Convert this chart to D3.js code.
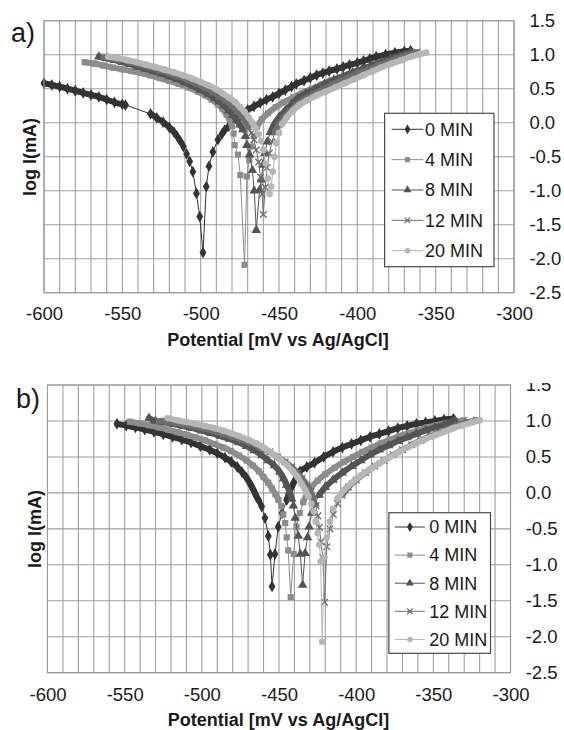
<!DOCTYPE html>
<html>
<head>
<meta charset="utf-8">
<script src="https://cdn.jsdelivr.net/npm/d3@7"></script>
<style>
  body { margin: 0; background: #fff; }
  svg { display: block; font-family: "Liberation Sans", Arial, sans-serif; }
</style>
</head>
<body>
<svg id="chart" width="564" height="730"></svg>
<script>
var seriesNames = ["0 MIN", "4 MIN", "8 MIN", "12 MIN", "20 MIN"];
var xTicks = [-600, -550, -500, -450, -400, -350, -300];
var yTicks = [1.5, 1.0, 0.5, 0.0, -0.5, -1.0, -1.5, -2.0, -2.5];

// panel a) points are [potential mV, log I], in sweep order
var a0 = [[-600,0.58],[-595,0.555],[-590,0.53],[-585,0.50],[-580,0.47],[-575,0.44],[-570,0.41],[-565,0.38],[-560,0.34],[-555,0.30],[-550,0.27],[-548,0.26],
    [-532,0.13],[-528,0.07],[-524,0.01],[-520,-0.07],[-517,-0.14],[-515,-0.2],[-513,-0.27],[-511,-0.35],[-509,-0.46],[-507,-0.57],[-505,-0.72],[-502.7,-1.04],[-500.6,-1.38],[-498.5,-1.91],
    [-496.4,-0.94],[-494.7,-0.64],[-492.2,-0.43],[-489,-0.25],[-486.5,-0.17],[-484.7,-0.11],[-482,-0.05],[-479.4,0.01],[-475,0.1],[-470,0.19],[-466,0.24],[-462,0.29],[-458,0.34],[-454,0.38],[-450,0.43],[-446,0.48],[-442,0.53],[-439,0.57],[-434,0.62],[-430,0.66],[-426,0.70],[-422,0.73],[-418,0.76],[-413,0.79],[-409,0.82],[-405,0.85],[-400,0.88],[-396,0.91],[-392,0.94],[-388,0.97],[-382,1.0],[-376,1.03],[-370,1.05],[-366,1.06]];
var a4 = [[-574,0.89],[-568,0.87],[-562,0.84],[-556,0.81],[-550,0.785],[-544,0.76],[-538,0.73],[-532,0.695],[-526,0.655],[-520,0.615],[-514,0.57],[-508,0.52],[-502,0.46],[-497,0.40],[-493,0.34],[-489,0.27],[-486,0.2],[-483.5,0.12],[-481.5,0.04],[-480,-0.05],[-479,-0.16],[-478.3,-0.33],[-476.2,-0.47],[-474.7,-0.77],[-472,-2.09],
    [-470.5,-0.79],[-469,-0.55],[-467.5,-0.35],[-466,-0.2],[-464,-0.06],[-461,0.05],[-457,0.14],[-452,0.23],[-447,0.3],[-441,0.37],[-435,0.44],[-429,0.5],[-423,0.56],[-417,0.62],[-411,0.67],[-405,0.72],[-399,0.77],[-393,0.82],[-387,0.87],[-381,0.91],[-375,0.96],[-369,1.0],[-365,1.03]];
var a8 = [[-565,0.97],[-560,0.945],[-555,0.92],[-550,0.89],[-545,0.86],[-540,0.825],[-535,0.79],[-530,0.755],[-525,0.72],[-520,0.68],[-515,0.64],[-510,0.59],[-505,0.54],[-500,0.48],[-495,0.42],[-491,0.36],[-488,0.31],[-485,0.25],[-482,0.18],[-479.5,0.11],[-477,0.04],[-475,-0.03],[-473,-0.1],[-471.5,-0.2],[-470.5,-0.33],[-468.8,-0.47],[-467,-0.70],[-465.8,-1.0],[-464.5,-1.58],
    [-462.4,-0.99],[-461.3,-0.84],[-460.2,-0.62],[-459,-0.45],[-457.5,-0.28],[-455.5,-0.14],[-453,-0.02],[-450,0.08],[-446,0.18],[-442,0.27],[-438,0.36],[-433,0.43],[-427,0.5],[-421,0.57],[-415,0.63],[-409,0.68],[-403,0.74],[-397,0.79],[-391,0.84],[-385,0.89],[-379,0.94],[-373,0.98],[-366,1.04]];
var a12 = [[-562,0.97],[-556,0.945],[-550,0.92],[-544,0.885],[-538,0.85],[-532,0.81],[-526,0.77],[-520,0.725],[-514,0.68],[-508,0.625],[-502,0.565],[-497,0.51],[-492,0.45],[-488,0.39],[-484,0.33],[-480,0.25],[-477,0.18],[-474,0.1],[-471.5,0.02],[-469.5,-0.06],[-467.5,-0.15],[-466,-0.25],[-464.5,-0.4],[-463,-0.58],[-461.8,-0.8],[-460.8,-1.05],[-460,-1.35],
    [-458.8,-0.95],[-457.6,-0.66],[-456.2,-0.45],[-454.5,-0.28],[-452.5,-0.14],[-450,-0.03],[-447,0.07],[-443,0.17],[-439,0.26],[-434,0.34],[-428,0.42],[-422,0.49],[-416,0.56],[-410,0.62],[-404,0.68],[-398,0.74],[-392,0.79],[-386,0.85],[-380,0.9],[-374,0.95],[-368,0.99],[-362,1.04]];
var a20 = [[-559,0.97],[-553,0.95],[-547,0.92],[-541,0.89],[-535,0.855],[-529,0.82],[-523,0.78],[-517,0.74],[-511,0.695],[-505,0.645],[-500,0.60],[-495,0.55],[-490,0.49],[-486,0.43],[-482,0.37],[-478,0.3],[-475,0.23],[-472,0.16],[-469.5,0.08],[-467,0.0],[-465,-0.08],[-463,-0.17],[-461.5,-0.27],[-460,-0.4],[-458.5,-0.6],[-457.2,-0.82],[-456,-1.05],
    [-455,-0.94],[-454,-0.72],[-452.8,-0.5],[-451.8,-0.3],[-450,-0.15],[-448,-0.02],[-445,0.08],[-441,0.18],[-437,0.26],[-432,0.33],[-426,0.4],[-420,0.46],[-414,0.52],[-408,0.58],[-402,0.64],[-396,0.7],[-390,0.76],[-384,0.82],[-378,0.87],[-372,0.92],[-366,0.97],[-360,1.01],[-356,1.03]];

// panel b)
var b0 = [[-555,0.96],[-549,0.935],[-543,0.91],[-537,0.88],[-531,0.85],[-525,0.815],[-519,0.78],[-513,0.74],[-507,0.70],[-501,0.65],[-495,0.6],[-490,0.55],[-485,0.49],[-481,0.43],[-477,0.36],[-474,0.29],[-471,0.21],[-468.5,0.12],[-466.5,0.04],[-465,-0.03],[-463,-0.11],[-461.2,-0.19],[-459.1,-0.35],[-456.9,-0.6],[-455.6,-0.86],[-454.5,-1.30],
    [-452.6,-0.85],[-450.5,-0.47],[-448,-0.28],[-445,-0.1],[-443,0.02],[-440.7,0.13],[-436.4,0.3],[-432,0.36],[-427,0.42],[-421,0.5],[-415,0.57],[-409,0.63],[-403,0.68],[-397,0.73],[-391,0.78],[-385,0.82],[-379,0.86],[-373,0.9],[-367,0.93],[-361,0.96],[-355,0.98],[-349,1.0],[-343,1.02],[-337,1.03]];
var b4 = [[-546.6,0.99],[-540,0.965],[-534,0.94],[-528,0.91],[-522,0.88],[-516,0.845],[-510,0.81],[-504,0.77],[-498,0.73],[-492,0.68],[-486,0.63],[-481,0.58],[-476,0.52],[-471,0.45],[-467,0.38],[-463,0.3],[-460,0.22],[-457,0.14],[-454.5,0.06],[-452.3,-0.02],[-450.3,-0.1],[-448.5,-0.18],[-447.2,-0.3],[-446,-0.42],[-445,-0.62],[-444,-0.8],[-442.4,-1.45],
    [-440.5,-0.85],[-438.7,-0.47],[-436.5,-0.28],[-434.3,-0.13],[-432,-0.02],[-429,0.08],[-425,0.17],[-420,0.26],[-414,0.35],[-408,0.43],[-402,0.5],[-396,0.57],[-390,0.63],[-384,0.69],[-378,0.74],[-372,0.79],[-366,0.83],[-360,0.87],[-354,0.91],[-348,0.94],[-342,0.97],[-336,0.99],[-330,1.01]];
var b8 = [[-534.2,1.04],[-530,1.0],[-524,0.98],[-518,0.955],[-512,0.93],[-506,0.9],[-500,0.865],[-494,0.83],[-488,0.79],[-482,0.75],[-476,0.7],[-471,0.65],[-466,0.59],[-461,0.52],[-457,0.45],[-453,0.38],[-449.5,0.29],[-447,0.2],[-445,0.11],[-443.3,0.02],[-441.8,-0.08],[-440.7,-0.18],[-439.5,-0.35],[-437.5,-0.6],[-436.2,-0.85],[-434.7,-1.28],
    [-433.1,-0.84],[-431.5,-0.62],[-430.5,-0.47],[-428.8,-0.28],[-426.7,-0.15],[-424,-0.03],[-420,0.08],[-415,0.18],[-409,0.28],[-403,0.37],[-397,0.45],[-391,0.53],[-385,0.6],[-379,0.66],[-373,0.72],[-367,0.77],[-361,0.82],[-355,0.87],[-349,0.91],[-343,0.95],[-338,0.99],[-336,1.01]];
var b12 = [[-528,1.0],[-522,0.99],[-516,0.97],[-510,0.945],[-504,0.92],[-498,0.89],[-492,0.86],[-486,0.82],[-480,0.78],[-474,0.74],[-468,0.69],[-462,0.63],[-456,0.57],[-451,0.5],[-446,0.43],[-442,0.36],[-438,0.28],[-435,0.2],[-432,0.11],[-429.5,0.02],[-427.5,-0.08],[-426,-0.18],[-424.8,-0.32],[-423.8,-0.48],[-422.8,-0.68],[-421.6,-0.9],[-420.5,-1.52],
    [-419,-0.75],[-417,-0.5],[-414.8,-0.3],[-412,-0.15],[-409,-0.03],[-405,0.08],[-400,0.18],[-394,0.28],[-388,0.37],[-382,0.45],[-376,0.53],[-370,0.6],[-364,0.67],[-358,0.73],[-352,0.79],[-346,0.84],[-340,0.89],[-334,0.94],[-328,0.98],[-322,1.01]];
var b20 = [[-522,1.04],[-516,1.01],[-510,0.985],[-504,0.96],[-498,0.93],[-492,0.9],[-486,0.865],[-481,0.83],[-476,0.79],[-470,0.74],[-465,0.69],[-460,0.63],[-455,0.56],[-450,0.48],[-445,0.39],[-441,0.3],[-438,0.22],[-435.5,0.13],[-433,0.04],[-431,-0.05],[-429,-0.15],[-427.5,-0.26],[-426.2,-0.4],[-425,-0.56],[-423.9,-0.72],[-423,-0.95],[-422,-2.07],
    [-420.5,-0.9],[-419,-0.62],[-417,-0.4],[-415,-0.22],[-412,-0.08],[-408,0.04],[-403,0.14],[-397,0.24],[-391,0.33],[-385,0.41],[-379,0.49],[-373,0.56],[-367,0.63],[-361,0.69],[-355,0.75],[-349,0.8],[-343,0.85],[-337,0.9],[-331,0.94],[-325,0.98],[-320,1.01]];

var colors = ["#333333", "#8c8c8c", "#545454", "#6e6e6e", "#b6b6b6"];
var symbols = [d3.symbolDiamond, d3.symbolSquare, d3.symbolTriangle, d3.symbolTimes, d3.symbolCircle];
var symSizes = [40, 38, 40, 30, 34];
var fontFam = "Liberation Sans, Arial, sans-serif";

var svg = d3.select("#chart");

function drawPanel(series, p) {
    var x = d3.scaleLinear().domain([-600, -300]).range([p.left, p.right]);
    var y = d3.scaleLinear().domain([-2.5, 1.5]).range([p.bottom, p.top]);
    var g = svg.append("g");

    // grid every 10 mV and every 0.5
    g.append("g").selectAll("line")
        .data(d3.range(-600, -299, 10))
        .join("line")
        .attr("x1", function (d) { return x(d); })
        .attr("x2", function (d) { return x(d); })
        .attr("y1", p.top).attr("y2", p.bottom)
        .attr("stroke", "#9e9e9e").attr("stroke-width", 1.1);
    g.append("g").selectAll("line")
        .data(yTicks)
        .join("line")
        .attr("x1", p.left).attr("x2", p.right)
        .attr("y1", function (d) { return y(d); })
        .attr("y2", function (d) { return y(d); })
        .attr("stroke", "#9e9e9e").attr("stroke-width", 1.1);

    // axes (labels only)
    var xa = g.append("g")
        .attr("transform", "translate(0," + p.bottom + ")")
        .call(d3.axisBottom(x).tickValues(xTicks).tickSize(0).tickPadding(p.xPad).tickFormat(function (d) { return String(d); }));
    xa.select(".domain").remove();
    xa.selectAll("text").attr("font-size", 18.5).attr("fill", "#1a1a1a").attr("font-family", fontFam);

    var ya = g.append("g")
        .attr("transform", "translate(" + p.right + ",0)")
        .call(d3.axisRight(y).tickValues(yTicks).tickSize(0).tickPadding(p.yPad).tickFormat(function (d) { return d.toFixed(1); }));
    ya.select(".domain").remove();
    ya.selectAll("text").attr("font-size", 18.5).attr("fill", "#1a1a1a").attr("font-family", fontFam);
    if (p.clipTop) {
        // the top label of b) is cut off in the original figure
        svg.append("clipPath").attr("id", "clipB")
            .append("rect").attr("x", 0).attr("y", p.clipTop).attr("width", 564).attr("height", 730);
        ya.attr("clip-path", "url(#clipB)");
    }

    var line = d3.line().x(function (d) { return x(d[0]); }).y(function (d) { return y(d[1]); });

    series.forEach(function (pts, i) {
        var sg = g.append("g");
        // runs of closely spaced points look like a solid band of markers
        var runs = [], cur = [];
        for (var k = 1; k < pts.length; k++) {
            var p0 = pts[k - 1], p1 = pts[k];
            var dense = p0[1] > -0.15 && p1[1] > -0.15 && Math.abs(p1[0] - p0[0]) < 15;
            if (dense) {
                if (!cur.length) cur.push(p0);
                cur.push(p1);
            } else if (cur.length) {
                runs.push(cur); cur = [];
            }
        }
        if (cur.length) runs.push(cur);

        sg.selectAll("path.band")
            .data(runs)
            .join("path")
            .attr("class", "band")
            .attr("d", line.curve(d3.curveCatmullRom))
            .attr("fill", "none")
            .attr("stroke", colors[i])
            .attr("stroke-width", 6)
            .attr("stroke-linecap", "round")
            .attr("stroke-linejoin", "round");

        sg.append("path")
            .datum(pts)
            .attr("d", line.curve(d3.curveLinear))
            .attr("fill", "none")
            .attr("stroke", colors[i])
            .attr("stroke-width", 1);

        var sym = d3.symbol().type(symbols[i]).size(symSizes[i]);
        sg.selectAll("path.mk")
            .data(pts)
            .join("path")
            .attr("class", "mk")
            .attr("d", sym)
            .attr("transform", function (d) { return "translate(" + x(d[0]) + "," + y(d[1]) + ")"; })
            .attr("fill", i == 3 ? "none" : colors[i])
            .attr("stroke", i == 3 ? colors[i] : "none")
            .attr("stroke-width", 1.4);
    });

    // plot border
    g.append("rect")
        .attr("x", p.left).attr("y", p.top)
        .attr("width", p.right - p.left).attr("height", p.bottom - p.top)
        .attr("fill", "none").attr("stroke", "#9a9a9a").attr("stroke-width", 1.1);

    // legend
    var lg = g.append("g").attr("transform", "translate(" + p.legX + "," + p.legY + ")");
    lg.append("rect")
        .attr("width", p.legW).attr("height", p.legH)
        .attr("fill", "#fff").attr("stroke", "#4a4a4a").attr("stroke-width", 1.2);
    seriesNames.forEach(function (name, i) {
        var row = lg.append("g").attr("transform", "translate(0," + (p.legRow0 + i * p.legStep) + ")");
        row.append("line")
            .attr("x1", p.legLine[0]).attr("x2", p.legLine[1])
            .attr("stroke", colors[i]).attr("stroke-width", 1);
        row.append("path")
            .attr("d", d3.symbol().type(symbols[i]).size(symSizes[i] * 0.7))
            .attr("transform", "translate(" + ((p.legLine[0] + p.legLine[1]) / 2) + ",0)")
            .attr("fill", i == 3 ? "none" : colors[i])
            .attr("stroke", i == 3 ? colors[i] : "none")
            .attr("stroke-width", 1.3);
        row.append("text")
            .attr("x", p.legText).attr("dy", "0.35em")
            .attr("font-size", 18).attr("fill", "#1a1a1a")
            .text(name);
    });

    // titles
    svg.append("text")
        .attr("x", p.tagX).attr("y", p.tagY)
        .attr("font-size", 27).attr("fill", "#1a1a1a")
        .text(p.tag);
    svg.append("text")
        .attr("transform", "translate(" + p.yTitleX + "," + p.yTitleY + ") rotate(-90)")
        .attr("text-anchor", "middle")
        .attr("font-size", 18).attr("font-weight", "bold").attr("fill", "#1a1a1a")
        .text("log I(mA)");
    svg.append("text")
        .attr("x", p.xTitleX).attr("y", p.xTitleY)
        .attr("text-anchor", "middle")
        .attr("font-size", 18).attr("font-weight", "bold").attr("fill", "#1a1a1a")
        .text("Potential [mV vs Ag/AgCl]");
}

drawPanel([a0, a4, a8, a12, a20], {
    left: 44, right: 514, top: 20.7, bottom: 292.7, xPad: 14, yPad: 15.4,
    legX: 384.6, legY: 113.3, legW: 109.4, legH: 153.4, legRow0: 16, legStep: 30.35, legLine: [7, 38.7], legText: 40.4,
    tag: "a)", tagX: 11, tagY: 41.5, yTitleX: 36, yTitleY: 157, xTitleX: 278, xTitleY: 346
});
drawPanel([b0, b4, b8, b12, b20], {
    left: 47.5, right: 510.5, top: 385, bottom: 672.7, xPad: 15.6, yPad: 15.2, clipTop: 383,
    legX: 388.9, legY: 512.7, legW: 101.6, legH: 140.6, legRow0: 14.3, legStep: 28.1, legLine: [6, 36], legText: 40.4,
    tag: "b)", tagX: 16, tagY: 408, yTitleX: 41, yTitleY: 529, xTitleX: 278.5, xTitleY: 726
});
</script>
</body>
</html>
